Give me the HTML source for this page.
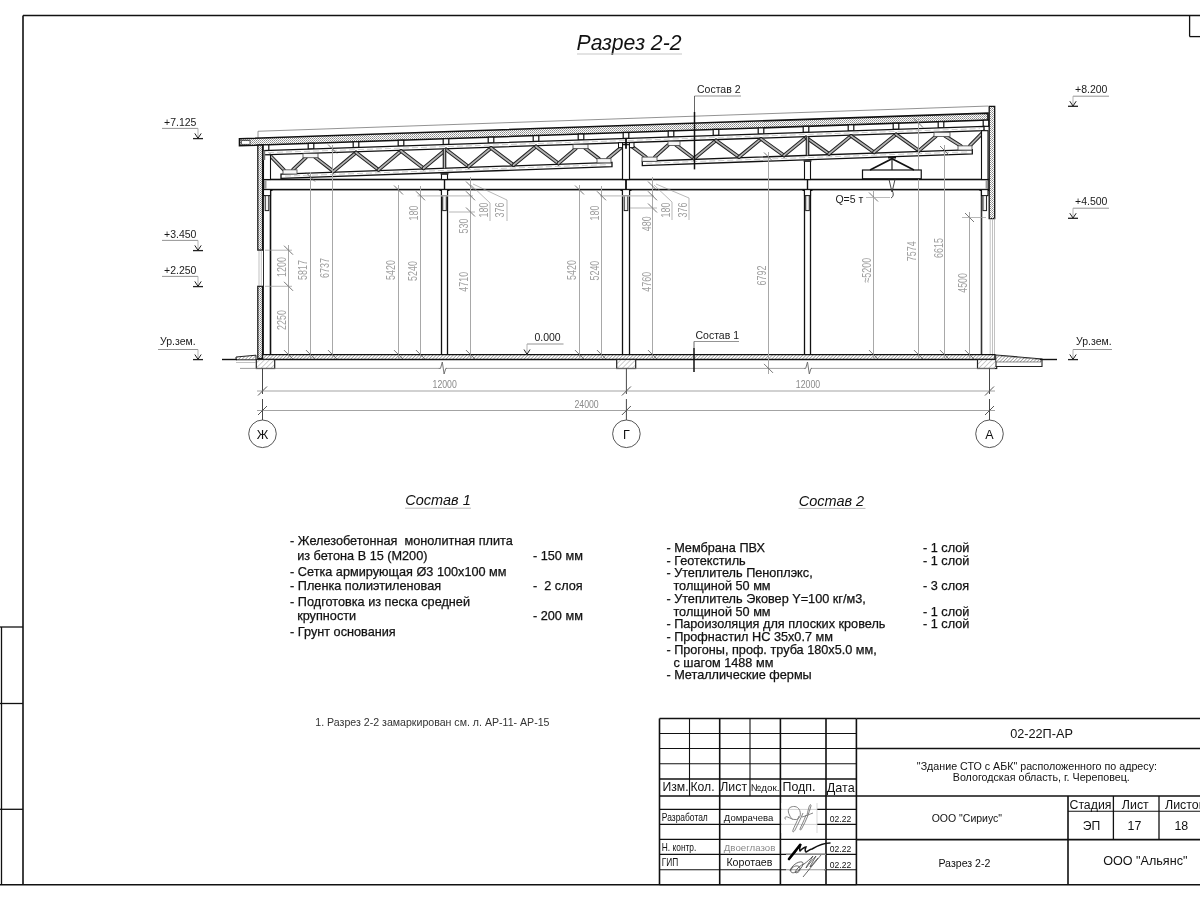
<!DOCTYPE html>
<html><head><meta charset="utf-8"><style>
html,body{margin:0;padding:0;background:#fff;}
svg{display:block;font-family:"Liberation Sans",sans-serif;will-change:transform;}
.dt{font-family:"Liberation Sans",sans-serif;}
.bt{stroke:#111;stroke-width:0.25px;}
</style></head><body>
<svg width="1200" height="900" viewBox="0 0 1200 900">
<defs>
<pattern id="dots" width="2" height="2" patternUnits="userSpaceOnUse"><rect width="2" height="2" fill="#fff"/><rect width="1" height="1" fill="#8a8a8a"/><rect x="1" y="1" width="1" height="1" fill="#aaa"/></pattern>
<pattern id="hatch" width="2.4" height="2.4" patternUnits="userSpaceOnUse" patternTransform="rotate(45)"><rect width="2.4" height="2.4" fill="#fff"/><line x1="0" y1="0" x2="0" y2="2.4" stroke="#666" stroke-width="1"/></pattern>
<pattern id="hatch2" width="3.5" height="3.5" patternUnits="userSpaceOnUse" patternTransform="rotate(45)"><rect width="3.5" height="3.5" fill="#fff"/><line x1="0" y1="0" x2="0" y2="3.5" stroke="#888" stroke-width="0.8"/></pattern>
</defs>
<rect width="1200" height="900" fill="#fff"/>
<line x1="23.00" y1="15.50" x2="1200.00" y2="15.50" stroke="#111" stroke-width="1.6" />
<line x1="23.00" y1="15.50" x2="23.00" y2="884.80" stroke="#111" stroke-width="1.6" />
<line x1="0.00" y1="884.80" x2="1200.00" y2="884.80" stroke="#111" stroke-width="1.6" />
<line x1="1189.60" y1="15.50" x2="1189.60" y2="36.60" stroke="#111" stroke-width="1.3" />
<line x1="1189.60" y1="36.60" x2="1200.00" y2="36.60" stroke="#111" stroke-width="1.3" />
<line x1="1.50" y1="627.00" x2="1.50" y2="884.80" stroke="#111" stroke-width="1.3" />
<line x1="0.00" y1="627.00" x2="23.00" y2="627.00" stroke="#111" stroke-width="1.3" />
<line x1="0.00" y1="703.50" x2="23.00" y2="703.50" stroke="#111" stroke-width="1.3" />
<line x1="0.00" y1="809.30" x2="23.00" y2="809.30" stroke="#111" stroke-width="1.3" />
<text x="576.50" y="49.70" font-size="21.2" text-anchor="start" fill="#111" font-style="italic">Разрез 2-2</text>
<line x1="577.00" y1="54.00" x2="682.00" y2="54.00" stroke="#c8c8c8" stroke-width="1.2" />
<text x="164.00" y="125.80" font-size="10.5" text-anchor="start" fill="#1a1a1a" >+7.125</text>
<line x1="162.00" y1="128.40" x2="198.00" y2="128.40" stroke="#888" stroke-width="0.9" />
<line x1="198.00" y1="128.40" x2="198.00" y2="138.50" stroke="#aaa" stroke-width="0.9" />
<polyline points="194.80,133.40 198.00,138.30 201.20,133.40" stroke="#222" stroke-width="1" fill="none" />
<line x1="193.00" y1="138.60" x2="203.00" y2="138.60" stroke="#222" stroke-width="1.3" />
<text x="164.00" y="237.80" font-size="10.5" text-anchor="start" fill="#1a1a1a" >+3.450</text>
<line x1="162.00" y1="240.40" x2="198.00" y2="240.40" stroke="#888" stroke-width="0.9" />
<line x1="198.00" y1="240.40" x2="198.00" y2="250.50" stroke="#aaa" stroke-width="0.9" />
<polyline points="194.80,245.40 198.00,250.30 201.20,245.40" stroke="#222" stroke-width="1" fill="none" />
<line x1="193.00" y1="250.60" x2="203.00" y2="250.60" stroke="#222" stroke-width="1.3" />
<text x="164.00" y="273.80" font-size="10.5" text-anchor="start" fill="#1a1a1a" >+2.250</text>
<line x1="162.00" y1="276.40" x2="198.00" y2="276.40" stroke="#888" stroke-width="0.9" />
<line x1="198.00" y1="276.40" x2="198.00" y2="286.50" stroke="#aaa" stroke-width="0.9" />
<polyline points="194.80,281.40 198.00,286.30 201.20,281.40" stroke="#222" stroke-width="1" fill="none" />
<line x1="193.00" y1="286.60" x2="203.00" y2="286.60" stroke="#222" stroke-width="1.3" />
<text x="160.00" y="345.00" font-size="10.5" text-anchor="start" fill="#1a1a1a" >Ур.зем.</text>
<line x1="158.00" y1="349.50" x2="198.00" y2="349.50" stroke="#888" stroke-width="0.9" />
<line x1="198.00" y1="349.50" x2="198.00" y2="359.50" stroke="#aaa" stroke-width="0.9" />
<polyline points="194.80,354.50 198.00,359.30 201.20,354.50" stroke="#222" stroke-width="1" fill="none" />
<line x1="193.00" y1="359.60" x2="203.00" y2="359.60" stroke="#222" stroke-width="1.3" />
<text x="1075.00" y="93.00" font-size="10.5" text-anchor="start" fill="#1a1a1a" >+8.200</text>
<line x1="1073.00" y1="96.20" x2="1109.00" y2="96.20" stroke="#888" stroke-width="0.9" />
<line x1="1073.00" y1="96.20" x2="1073.00" y2="106.20" stroke="#aaa" stroke-width="0.9" />
<polyline points="1069.80,101.20 1073.00,106.00 1076.20,101.20" stroke="#222" stroke-width="1" fill="none" />
<line x1="1068.00" y1="106.30" x2="1078.00" y2="106.30" stroke="#222" stroke-width="1.3" />
<text x="1075.00" y="205.00" font-size="10.5" text-anchor="start" fill="#1a1a1a" >+4.500</text>
<line x1="1073.00" y1="208.20" x2="1109.00" y2="208.20" stroke="#888" stroke-width="0.9" />
<line x1="1073.00" y1="208.20" x2="1073.00" y2="218.20" stroke="#aaa" stroke-width="0.9" />
<polyline points="1069.80,213.20 1073.00,218.00 1076.20,213.20" stroke="#222" stroke-width="1" fill="none" />
<line x1="1068.00" y1="218.30" x2="1078.00" y2="218.30" stroke="#222" stroke-width="1.3" />
<text x="1076.00" y="345.00" font-size="10.5" text-anchor="start" fill="#1a1a1a" >Ур.зем.</text>
<line x1="1073.00" y1="349.50" x2="1112.00" y2="349.50" stroke="#888" stroke-width="0.9" />
<line x1="1073.00" y1="349.50" x2="1073.00" y2="359.50" stroke="#aaa" stroke-width="0.9" />
<polyline points="1069.80,354.50 1073.00,359.30 1076.20,354.50" stroke="#222" stroke-width="1" fill="none" />
<line x1="1068.00" y1="359.60" x2="1078.00" y2="359.60" stroke="#222" stroke-width="1.3" />
<line x1="258.00" y1="131.25" x2="988.00" y2="106.06" stroke="#777" stroke-width="0.8" />
<line x1="258.00" y1="131.25" x2="258.00" y2="138.00" stroke="#777" stroke-width="0.8" />
<polygon points="239.50,138.77 988.00,113.09 988.00,120.09 239.50,145.77" stroke="#111" stroke-width="1.6" fill="url(#dots)" />
<rect x="241.30" y="140.68" width="8.70" height="3.60" stroke="#222" stroke-width="0.7" fill="#fff" />
<rect x="263.20" y="144.86" width="5.60" height="5.71" stroke="#111" stroke-width="1.2" fill="#fff" />
<rect x="308.20" y="143.31" width="5.60" height="5.74" stroke="#111" stroke-width="1.2" fill="#fff" />
<rect x="353.20" y="141.77" width="5.60" height="5.77" stroke="#111" stroke-width="1.2" fill="#fff" />
<rect x="398.20" y="140.23" width="5.60" height="5.79" stroke="#111" stroke-width="1.2" fill="#fff" />
<rect x="443.20" y="138.68" width="5.60" height="5.82" stroke="#111" stroke-width="1.2" fill="#fff" />
<rect x="488.20" y="137.14" width="5.60" height="5.85" stroke="#111" stroke-width="1.2" fill="#fff" />
<rect x="533.20" y="135.60" width="5.60" height="5.88" stroke="#111" stroke-width="1.2" fill="#fff" />
<rect x="578.20" y="134.05" width="5.60" height="5.91" stroke="#111" stroke-width="1.2" fill="#fff" />
<rect x="623.20" y="132.51" width="5.60" height="5.94" stroke="#111" stroke-width="1.2" fill="#fff" />
<rect x="668.20" y="130.97" width="5.60" height="5.97" stroke="#111" stroke-width="1.2" fill="#fff" />
<rect x="713.20" y="129.42" width="5.60" height="6.00" stroke="#111" stroke-width="1.2" fill="#fff" />
<rect x="758.20" y="127.88" width="5.60" height="6.02" stroke="#111" stroke-width="1.2" fill="#fff" />
<rect x="803.20" y="126.34" width="5.60" height="6.05" stroke="#111" stroke-width="1.2" fill="#fff" />
<rect x="848.20" y="124.79" width="5.60" height="6.08" stroke="#111" stroke-width="1.2" fill="#fff" />
<rect x="893.20" y="123.25" width="5.60" height="6.11" stroke="#111" stroke-width="1.2" fill="#fff" />
<rect x="938.20" y="121.71" width="5.60" height="6.14" stroke="#111" stroke-width="1.2" fill="#fff" />
<rect x="983.20" y="120.16" width="5.60" height="6.17" stroke="#111" stroke-width="1.2" fill="#fff" />
<polygon points="263.00,150.67 984.00,126.40 984.00,130.60 263.00,154.87" stroke="#111" stroke-width="1.3" fill="#fff" />
<line x1="268.00" y1="152.60" x2="980.00" y2="128.63" stroke="#aaa" stroke-width="0.6" stroke-dasharray="6,3"/>
<polygon points="281.00,174.10 612.00,162.35 612.00,166.65 281.00,178.40" stroke="#111" stroke-width="1.3" fill="#fff" />
<line x1="285.00" y1="176.11" x2="608.00" y2="164.64" stroke="#aaa" stroke-width="0.6" stroke-dasharray="6,3"/>
<polygon points="642.30,161.27 972.30,149.56 972.30,153.86 642.30,165.57" stroke="#111" stroke-width="1.3" fill="#fff" />
<line x1="646.30" y1="163.28" x2="968.30" y2="151.85" stroke="#aaa" stroke-width="0.6" stroke-dasharray="6,3"/>
<line x1="270.00" y1="155.43" x2="284.00" y2="169.99" stroke="#222" stroke-width="3.7" stroke-linecap="round"/>
<line x1="270.00" y1="155.43" x2="284.00" y2="169.99" stroke="#b4b4b4" stroke-width="1.7" stroke-linecap="round"/>
<line x1="306.00" y1="157.42" x2="293.00" y2="169.67" stroke="#222" stroke-width="3.7" stroke-linecap="round"/>
<line x1="306.00" y1="157.42" x2="293.00" y2="169.67" stroke="#b4b4b4" stroke-width="1.7" stroke-linecap="round"/>
<line x1="315.00" y1="157.12" x2="333.50" y2="171.44" stroke="#222" stroke-width="3.7" stroke-linecap="round"/>
<line x1="315.00" y1="157.12" x2="333.50" y2="171.44" stroke="#b4b4b4" stroke-width="1.7" stroke-linecap="round"/>
<line x1="356.00" y1="152.54" x2="333.50" y2="171.44" stroke="#222" stroke-width="3.7" stroke-linecap="round"/>
<line x1="356.00" y1="152.54" x2="333.50" y2="171.44" stroke="#b4b4b4" stroke-width="1.7" stroke-linecap="round"/>
<line x1="356.00" y1="152.54" x2="378.50" y2="169.84" stroke="#222" stroke-width="3.7" stroke-linecap="round"/>
<line x1="356.00" y1="152.54" x2="378.50" y2="169.84" stroke="#b4b4b4" stroke-width="1.7" stroke-linecap="round"/>
<line x1="401.00" y1="151.02" x2="378.50" y2="169.84" stroke="#222" stroke-width="3.7" stroke-linecap="round"/>
<line x1="401.00" y1="151.02" x2="378.50" y2="169.84" stroke="#b4b4b4" stroke-width="1.7" stroke-linecap="round"/>
<line x1="401.00" y1="151.02" x2="423.50" y2="168.24" stroke="#222" stroke-width="3.7" stroke-linecap="round"/>
<line x1="401.00" y1="151.02" x2="423.50" y2="168.24" stroke="#b4b4b4" stroke-width="1.7" stroke-linecap="round"/>
<line x1="446.00" y1="149.51" x2="423.50" y2="168.24" stroke="#222" stroke-width="3.7" stroke-linecap="round"/>
<line x1="446.00" y1="149.51" x2="423.50" y2="168.24" stroke="#b4b4b4" stroke-width="1.7" stroke-linecap="round"/>
<line x1="446.00" y1="149.51" x2="468.50" y2="166.64" stroke="#222" stroke-width="3.7" stroke-linecap="round"/>
<line x1="446.00" y1="149.51" x2="468.50" y2="166.64" stroke="#b4b4b4" stroke-width="1.7" stroke-linecap="round"/>
<line x1="491.00" y1="147.99" x2="468.50" y2="166.64" stroke="#222" stroke-width="3.7" stroke-linecap="round"/>
<line x1="491.00" y1="147.99" x2="468.50" y2="166.64" stroke="#b4b4b4" stroke-width="1.7" stroke-linecap="round"/>
<line x1="491.00" y1="147.99" x2="513.50" y2="165.05" stroke="#222" stroke-width="3.7" stroke-linecap="round"/>
<line x1="491.00" y1="147.99" x2="513.50" y2="165.05" stroke="#b4b4b4" stroke-width="1.7" stroke-linecap="round"/>
<line x1="536.00" y1="146.48" x2="513.50" y2="165.05" stroke="#222" stroke-width="3.7" stroke-linecap="round"/>
<line x1="536.00" y1="146.48" x2="513.50" y2="165.05" stroke="#b4b4b4" stroke-width="1.7" stroke-linecap="round"/>
<line x1="536.00" y1="146.48" x2="558.50" y2="163.45" stroke="#222" stroke-width="3.7" stroke-linecap="round"/>
<line x1="536.00" y1="146.48" x2="558.50" y2="163.45" stroke="#b4b4b4" stroke-width="1.7" stroke-linecap="round"/>
<line x1="576.00" y1="148.33" x2="558.50" y2="163.45" stroke="#222" stroke-width="3.7" stroke-linecap="round"/>
<line x1="576.00" y1="148.33" x2="558.50" y2="163.45" stroke="#b4b4b4" stroke-width="1.7" stroke-linecap="round"/>
<line x1="585.00" y1="148.03" x2="599.00" y2="158.81" stroke="#222" stroke-width="3.7" stroke-linecap="round"/>
<line x1="585.00" y1="148.03" x2="599.00" y2="158.81" stroke="#b4b4b4" stroke-width="1.7" stroke-linecap="round"/>
<line x1="622.00" y1="146.78" x2="608.00" y2="158.49" stroke="#222" stroke-width="3.7" stroke-linecap="round"/>
<line x1="622.00" y1="146.78" x2="608.00" y2="158.49" stroke="#b4b4b4" stroke-width="1.7" stroke-linecap="round"/>
<line x1="632.00" y1="146.45" x2="646.00" y2="157.14" stroke="#222" stroke-width="3.7" stroke-linecap="round"/>
<line x1="632.00" y1="146.45" x2="646.00" y2="157.14" stroke="#b4b4b4" stroke-width="1.7" stroke-linecap="round"/>
<line x1="668.00" y1="145.24" x2="655.00" y2="156.82" stroke="#222" stroke-width="3.7" stroke-linecap="round"/>
<line x1="668.00" y1="145.24" x2="655.00" y2="156.82" stroke="#b4b4b4" stroke-width="1.7" stroke-linecap="round"/>
<line x1="676.00" y1="144.97" x2="694.00" y2="158.64" stroke="#222" stroke-width="3.7" stroke-linecap="round"/>
<line x1="676.00" y1="144.97" x2="694.00" y2="158.64" stroke="#b4b4b4" stroke-width="1.7" stroke-linecap="round"/>
<line x1="716.00" y1="140.42" x2="694.00" y2="158.64" stroke="#222" stroke-width="3.7" stroke-linecap="round"/>
<line x1="716.00" y1="140.42" x2="694.00" y2="158.64" stroke="#b4b4b4" stroke-width="1.7" stroke-linecap="round"/>
<line x1="716.00" y1="140.42" x2="739.00" y2="157.04" stroke="#222" stroke-width="3.7" stroke-linecap="round"/>
<line x1="716.00" y1="140.42" x2="739.00" y2="157.04" stroke="#b4b4b4" stroke-width="1.7" stroke-linecap="round"/>
<line x1="761.00" y1="138.90" x2="739.00" y2="157.04" stroke="#222" stroke-width="3.7" stroke-linecap="round"/>
<line x1="761.00" y1="138.90" x2="739.00" y2="157.04" stroke="#b4b4b4" stroke-width="1.7" stroke-linecap="round"/>
<line x1="761.00" y1="138.90" x2="784.00" y2="155.44" stroke="#222" stroke-width="3.7" stroke-linecap="round"/>
<line x1="761.00" y1="138.90" x2="784.00" y2="155.44" stroke="#b4b4b4" stroke-width="1.7" stroke-linecap="round"/>
<line x1="806.00" y1="137.39" x2="784.00" y2="155.44" stroke="#222" stroke-width="3.7" stroke-linecap="round"/>
<line x1="806.00" y1="137.39" x2="784.00" y2="155.44" stroke="#b4b4b4" stroke-width="1.7" stroke-linecap="round"/>
<line x1="806.00" y1="137.39" x2="829.00" y2="153.85" stroke="#222" stroke-width="3.7" stroke-linecap="round"/>
<line x1="806.00" y1="137.39" x2="829.00" y2="153.85" stroke="#b4b4b4" stroke-width="1.7" stroke-linecap="round"/>
<line x1="851.00" y1="135.88" x2="829.00" y2="153.85" stroke="#222" stroke-width="3.7" stroke-linecap="round"/>
<line x1="851.00" y1="135.88" x2="829.00" y2="153.85" stroke="#b4b4b4" stroke-width="1.7" stroke-linecap="round"/>
<line x1="851.00" y1="135.88" x2="874.00" y2="152.25" stroke="#222" stroke-width="3.7" stroke-linecap="round"/>
<line x1="851.00" y1="135.88" x2="874.00" y2="152.25" stroke="#b4b4b4" stroke-width="1.7" stroke-linecap="round"/>
<line x1="896.00" y1="134.36" x2="874.00" y2="152.25" stroke="#222" stroke-width="3.7" stroke-linecap="round"/>
<line x1="896.00" y1="134.36" x2="874.00" y2="152.25" stroke="#b4b4b4" stroke-width="1.7" stroke-linecap="round"/>
<line x1="896.00" y1="134.36" x2="919.00" y2="150.65" stroke="#222" stroke-width="3.7" stroke-linecap="round"/>
<line x1="896.00" y1="134.36" x2="919.00" y2="150.65" stroke="#b4b4b4" stroke-width="1.7" stroke-linecap="round"/>
<line x1="936.00" y1="136.21" x2="919.00" y2="150.65" stroke="#222" stroke-width="3.7" stroke-linecap="round"/>
<line x1="936.00" y1="136.21" x2="919.00" y2="150.65" stroke="#b4b4b4" stroke-width="1.7" stroke-linecap="round"/>
<line x1="945.00" y1="135.91" x2="961.00" y2="145.96" stroke="#222" stroke-width="3.7" stroke-linecap="round"/>
<line x1="945.00" y1="135.91" x2="961.00" y2="145.96" stroke="#b4b4b4" stroke-width="1.7" stroke-linecap="round"/>
<line x1="984.00" y1="131.40" x2="970.00" y2="145.64" stroke="#222" stroke-width="3.7" stroke-linecap="round"/>
<line x1="984.00" y1="131.40" x2="970.00" y2="145.64" stroke="#b4b4b4" stroke-width="1.7" stroke-linecap="round"/>
<rect x="303.00" y="153.52" width="15.00" height="4.20" stroke="#444" stroke-width="0.8" fill="#f6f6f6" />
<rect x="573.00" y="144.43" width="15.00" height="4.20" stroke="#444" stroke-width="0.8" fill="#f6f6f6" />
<rect x="668.00" y="141.24" width="12.00" height="4.20" stroke="#444" stroke-width="0.8" fill="#f6f6f6" />
<rect x="934.00" y="132.28" width="16.00" height="4.20" stroke="#444" stroke-width="0.8" fill="#f6f6f6" />
<rect x="283.00" y="169.83" width="14.00" height="4.20" stroke="#444" stroke-width="0.8" fill="#f6f6f6" />
<rect x="597.00" y="158.68" width="14.00" height="4.20" stroke="#444" stroke-width="0.8" fill="#f6f6f6" />
<rect x="642.00" y="157.08" width="15.00" height="4.20" stroke="#444" stroke-width="0.8" fill="#f6f6f6" />
<rect x="958.00" y="145.87" width="14.00" height="4.20" stroke="#444" stroke-width="0.8" fill="#f6f6f6" />
<rect x="263.40" y="179.50" width="724.60" height="10.10" stroke="#111" stroke-width="1.6" fill="#fff" />
<line x1="263.50" y1="189.60" x2="263.50" y2="354.60" stroke="#111" stroke-width="0.9" />
<line x1="270.50" y1="189.60" x2="270.50" y2="354.60" stroke="#111" stroke-width="1.6" />
<rect x="263.50" y="154.85" width="7.00" height="24.65" stroke="#111" stroke-width="1.1" fill="#fff" />
<rect x="264" y="180.3" width="2.5" height="8.5" fill="#999"/>
<rect x="263.2" y="150.5" width="2" height="9.5" fill="#777"/>
<line x1="261.50" y1="190.20" x2="272.50" y2="190.20" stroke="#111" stroke-width="1.6" />
<rect x="263.50" y="189.60" width="7.00" height="6.00" stroke="#111" stroke-width="1.1" fill="#fff" />
<rect x="265.20" y="195.6" width="3.6" height="15" stroke="#222" stroke-width="1" fill="#f2f2f2"/>
<line x1="441.50" y1="189.60" x2="441.50" y2="354.60" stroke="#111" stroke-width="1.3" />
<line x1="447.50" y1="189.60" x2="447.50" y2="354.60" stroke="#111" stroke-width="1.3" />
<line x1="444.50" y1="148.76" x2="444.50" y2="168.30" stroke="#1a1a1a" stroke-width="3.6" />
<line x1="444.50" y1="148.76" x2="444.50" y2="168.30" stroke="#b8b8b8" stroke-width="1.4" />
<rect x="441.50" y="174.10" width="6.00" height="5.40" stroke="#111" stroke-width="1.1" fill="#fff" />
<line x1="440.50" y1="173.80" x2="448.50" y2="173.80" stroke="#333" stroke-width="1.5" />
<line x1="444.50" y1="179.50" x2="444.50" y2="189.60" stroke="#111" stroke-width="1.4" />
<line x1="439.50" y1="190.20" x2="449.50" y2="190.20" stroke="#111" stroke-width="1.6" />
<rect x="441.50" y="189.60" width="6.00" height="6.00" stroke="#111" stroke-width="1.1" fill="#fff" />
<rect x="442.70" y="195.6" width="3.6" height="15" stroke="#222" stroke-width="1" fill="#f2f2f2"/>
<line x1="622.50" y1="189.60" x2="622.50" y2="354.60" stroke="#111" stroke-width="1.3" />
<line x1="629.50" y1="189.60" x2="629.50" y2="354.60" stroke="#111" stroke-width="1.3" />
<rect x="622.50" y="144.65" width="7.00" height="34.85" stroke="#111" stroke-width="1.2" fill="#fff" />
<line x1="626.00" y1="138.45" x2="626.00" y2="148.65" stroke="#111" stroke-width="1.8" />
<rect x="618.50" y="142.65" width="4.00" height="5.00" stroke="#111" stroke-width="1" fill="#fff" />
<rect x="629.50" y="142.65" width="4.50" height="5.00" stroke="#111" stroke-width="1" fill="#fff" />
<line x1="626.00" y1="179.50" x2="626.00" y2="189.60" stroke="#111" stroke-width="1.8" />
<line x1="620.50" y1="190.20" x2="631.50" y2="190.20" stroke="#111" stroke-width="1.6" />
<rect x="622.50" y="189.60" width="7.00" height="6.00" stroke="#111" stroke-width="1.1" fill="#fff" />
<rect x="624.20" y="195.6" width="3.6" height="15" stroke="#222" stroke-width="1" fill="#f2f2f2"/>
<line x1="804.50" y1="189.60" x2="804.50" y2="354.60" stroke="#111" stroke-width="1.3" />
<line x1="810.50" y1="189.60" x2="810.50" y2="354.60" stroke="#111" stroke-width="1.3" />
<line x1="807.50" y1="136.54" x2="807.50" y2="155.41" stroke="#1a1a1a" stroke-width="3.6" />
<line x1="807.50" y1="136.54" x2="807.50" y2="155.41" stroke="#b8b8b8" stroke-width="1.4" />
<rect x="804.50" y="161.21" width="6.00" height="18.29" stroke="#111" stroke-width="1.1" fill="#fff" />
<line x1="803.50" y1="160.91" x2="811.50" y2="160.91" stroke="#333" stroke-width="1.5" />
<line x1="807.50" y1="179.50" x2="807.50" y2="189.60" stroke="#111" stroke-width="1.4" />
<line x1="802.50" y1="190.20" x2="812.50" y2="190.20" stroke="#111" stroke-width="1.6" />
<rect x="804.50" y="189.60" width="6.00" height="6.00" stroke="#111" stroke-width="1.1" fill="#fff" />
<rect x="805.70" y="195.6" width="3.6" height="15" stroke="#222" stroke-width="1" fill="#f2f2f2"/>
<line x1="981.50" y1="189.60" x2="981.50" y2="354.60" stroke="#333" stroke-width="1.6" />
<rect x="981.50" y="130.68" width="6.50" height="48.82" stroke="#111" stroke-width="1.1" fill="#fff" />
<rect x="985.6" y="180.3" width="2.7" height="8.5" fill="#999"/>
<line x1="979.50" y1="190.20" x2="990.00" y2="190.20" stroke="#111" stroke-width="1.6" />
<rect x="981.50" y="189.60" width="6.50" height="6.00" stroke="#111" stroke-width="1.1" fill="#fff" />
<rect x="982.95" y="195.6" width="3.6" height="15" stroke="#222" stroke-width="1" fill="#f2f2f2"/>
<line x1="417.50" y1="195.80" x2="473.00" y2="195.80" stroke="#c4c4c4" stroke-width="1.2" />
<line x1="600.00" y1="195.80" x2="654.00" y2="195.80" stroke="#c4c4c4" stroke-width="1.2" />
<polygon points="257.80,145.14 262.50,144.98 262.50,250.20 257.80,250.20" stroke="#111" stroke-width="1.2" fill="url(#dots)" />
<rect x="257.80" y="286.30" width="4.70" height="72.20" stroke="#111" stroke-width="1.2" fill="url(#dots)" />
<line x1="259.00" y1="250.20" x2="259.00" y2="286.30" stroke="#999" stroke-width="0.6" />
<line x1="261.30" y1="250.20" x2="261.30" y2="286.30" stroke="#999" stroke-width="0.6" />
<rect x="989.20" y="106.40" width="5.50" height="112.20" stroke="#111" stroke-width="1.3" fill="url(#dots)" />
<line x1="990.20" y1="218.00" x2="990.20" y2="354.60" stroke="#999" stroke-width="0.6" />
<line x1="992.50" y1="218.00" x2="992.50" y2="354.60" stroke="#999" stroke-width="0.6" />
<line x1="994.50" y1="218.00" x2="994.50" y2="354.60" stroke="#999" stroke-width="0.6" />
<polygon points="262.50,354.60 995.00,354.60 995.00,359.50 262.50,359.50" stroke="#111" stroke-width="1.4" fill="url(#hatch)" />
<rect x="256.30" y="359.50" width="18.40" height="9.00" stroke="#222" stroke-width="1.2" fill="url(#hatch2)" />
<rect x="616.70" y="359.50" width="19.00" height="9.00" stroke="#222" stroke-width="1.2" fill="url(#hatch2)" />
<rect x="977.50" y="359.50" width="19.20" height="9.00" stroke="#222" stroke-width="1.2" fill="url(#hatch2)" />
<line x1="240.00" y1="368.40" x2="995.00" y2="368.40" stroke="#888" stroke-width="0.8" />
<polygon points="236.00,357.00 256.00,355.20 256.00,359.80 236.00,359.80" stroke="#222" stroke-width="1" fill="url(#hatch)" />
<line x1="236.00" y1="362.50" x2="256.00" y2="362.50" stroke="#999" stroke-width="0.6" />
<polygon points="996.00,355.00 1042.00,359.00 1042.00,366.50 996.00,366.50" stroke="#222" stroke-width="1.1" fill="#fff" />
<polygon points="996.00,355.50 1041.00,359.50 1041.00,362.00 996.00,362.00" stroke="#444" stroke-width="0.6" fill="url(#hatch)" />
<line x1="222.00" y1="359.50" x2="237.00" y2="359.50" stroke="#111" stroke-width="1.4" />
<line x1="1040.00" y1="359.50" x2="1057.00" y2="359.50" stroke="#111" stroke-width="1.4" />
<line x1="262.50" y1="368.50" x2="262.50" y2="394.00" stroke="#333" stroke-width="0.9" />
<line x1="262.50" y1="399.00" x2="262.50" y2="420.00" stroke="#333" stroke-width="0.9" />
<circle cx="262.5" cy="433.8" r="13.8" stroke="#444" stroke-width="0.9" fill="none"/>
<text x="262.50" y="439.00" font-size="12.5" text-anchor="middle" fill="#111" >Ж</text>
<line x1="626.40" y1="368.50" x2="626.40" y2="394.00" stroke="#333" stroke-width="0.9" />
<line x1="626.40" y1="399.00" x2="626.40" y2="420.00" stroke="#333" stroke-width="0.9" />
<circle cx="626.4" cy="433.8" r="13.8" stroke="#444" stroke-width="0.9" fill="none"/>
<text x="626.40" y="439.00" font-size="12.5" text-anchor="middle" fill="#111" >Г</text>
<line x1="989.50" y1="368.50" x2="989.50" y2="394.00" stroke="#333" stroke-width="0.9" />
<line x1="989.50" y1="399.00" x2="989.50" y2="420.00" stroke="#333" stroke-width="0.9" />
<circle cx="989.5" cy="433.8" r="13.8" stroke="#444" stroke-width="0.9" fill="none"/>
<text x="989.50" y="439.00" font-size="12.5" text-anchor="middle" fill="#111" >А</text>
<line x1="257.00" y1="391.00" x2="995.00" y2="391.00" stroke="#999" stroke-width="0.9" />
<line x1="257.00" y1="410.50" x2="995.00" y2="410.50" stroke="#999" stroke-width="0.9" />
<line x1="258.00" y1="395.50" x2="267.00" y2="386.50" stroke="#444" stroke-width="0.9" />
<line x1="258.00" y1="415.00" x2="267.00" y2="406.00" stroke="#444" stroke-width="0.9" />
<line x1="621.90" y1="395.50" x2="630.90" y2="386.50" stroke="#444" stroke-width="0.9" />
<line x1="621.90" y1="415.00" x2="630.90" y2="406.00" stroke="#444" stroke-width="0.9" />
<line x1="985.00" y1="395.50" x2="994.00" y2="386.50" stroke="#444" stroke-width="0.9" />
<line x1="985.00" y1="415.00" x2="994.00" y2="406.00" stroke="#444" stroke-width="0.9" />
<text transform="translate(444.70,387.70) scale(0.78,1)" x="0" y="0" font-size="11.2" text-anchor="middle" fill="#8a8a8a" class="dt">12000</text>
<text transform="translate(808.00,387.70) scale(0.78,1)" x="0" y="0" font-size="11.2" text-anchor="middle" fill="#8a8a8a" class="dt">12000</text>
<text transform="translate(586.60,407.70) scale(0.78,1)" x="0" y="0" font-size="11.2" text-anchor="middle" fill="#8a8a8a" class="dt">24000</text>
<rect x="438.30" y="366" width="8" height="5" fill="#fff"/>
<polyline points="438.30,368.40 440.50,368.40 442.30,362.00 444.10,374.00 445.80,368.40 446.80,368.40" stroke="#666" stroke-width="0.9" fill="none" />
<rect x="803.50" y="366" width="8" height="5" fill="#fff"/>
<polyline points="803.50,368.40 805.70,368.40 807.50,362.00 809.30,374.00 811.00,368.40 812.00,368.40" stroke="#666" stroke-width="0.9" fill="none" />
<line x1="288.50" y1="245.00" x2="288.50" y2="358.00" stroke="#a8a8a8" stroke-width="1" />
<line x1="284.00" y1="245.70" x2="293.00" y2="254.70" stroke="#555" stroke-width="0.8" />
<line x1="284.00" y1="281.80" x2="293.00" y2="290.80" stroke="#555" stroke-width="0.8" />
<line x1="284.00" y1="350.10" x2="293.00" y2="359.10" stroke="#555" stroke-width="0.8" />
<line x1="265.00" y1="250.20" x2="292.00" y2="250.20" stroke="#9a9a9a" stroke-width="0.7" />
<line x1="265.00" y1="286.30" x2="292.00" y2="286.30" stroke="#9a9a9a" stroke-width="0.7" />
<text transform="translate(282.00,267.00) rotate(-90) scale(0.72,1)" x="0" y="4.4" font-size="12.4" text-anchor="middle" fill="#a0a0a0" class="dt">1200</text>
<text transform="translate(282.00,320.00) rotate(-90) scale(0.72,1)" x="0" y="4.4" font-size="12.4" text-anchor="middle" fill="#a0a0a0" class="dt">2250</text>
<line x1="310.50" y1="172.00" x2="310.50" y2="358.00" stroke="#a8a8a8" stroke-width="1" />
<line x1="306.00" y1="172.50" x2="315.00" y2="181.50" stroke="#555" stroke-width="0.8" />
<line x1="306.00" y1="350.10" x2="315.00" y2="359.10" stroke="#555" stroke-width="0.8" />
<text transform="translate(303.00,270.00) rotate(-90) scale(0.72,1)" x="0" y="4.4" font-size="12.4" text-anchor="middle" fill="#a0a0a0" class="dt">5817</text>
<line x1="332.50" y1="145.00" x2="332.50" y2="358.00" stroke="#a8a8a8" stroke-width="1" />
<line x1="328.00" y1="144.50" x2="337.00" y2="153.50" stroke="#555" stroke-width="0.8" />
<line x1="328.00" y1="350.10" x2="337.00" y2="359.10" stroke="#555" stroke-width="0.8" />
<text transform="translate(325.00,268.00) rotate(-90) scale(0.72,1)" x="0" y="4.4" font-size="12.4" text-anchor="middle" fill="#a0a0a0" class="dt">6737</text>
<line x1="398.50" y1="185.00" x2="398.50" y2="358.00" stroke="#a8a8a8" stroke-width="1" />
<line x1="394.00" y1="185.50" x2="403.00" y2="194.50" stroke="#555" stroke-width="0.8" />
<line x1="394.00" y1="350.10" x2="403.00" y2="359.10" stroke="#555" stroke-width="0.8" />
<text transform="translate(391.00,270.00) rotate(-90) scale(0.72,1)" x="0" y="4.4" font-size="12.4" text-anchor="middle" fill="#a0a0a0" class="dt">5420</text>
<line x1="420.50" y1="186.00" x2="420.50" y2="358.00" stroke="#a8a8a8" stroke-width="1" />
<line x1="416.00" y1="191.30" x2="425.00" y2="200.30" stroke="#555" stroke-width="0.8" />
<line x1="416.00" y1="350.10" x2="425.00" y2="359.10" stroke="#555" stroke-width="0.8" />
<text transform="translate(413.00,271.00) rotate(-90) scale(0.72,1)" x="0" y="4.4" font-size="12.4" text-anchor="middle" fill="#a0a0a0" class="dt">5240</text>
<text transform="translate(414.00,213.00) rotate(-90) scale(0.72,1)" x="0" y="4.4" font-size="12.4" text-anchor="middle" fill="#a0a0a0" class="dt">180</text>
<line x1="470.50" y1="177.00" x2="470.50" y2="358.00" stroke="#a8a8a8" stroke-width="1" />
<line x1="466.00" y1="181.50" x2="475.00" y2="190.50" stroke="#555" stroke-width="0.8" />
<line x1="466.00" y1="191.30" x2="475.00" y2="200.30" stroke="#555" stroke-width="0.8" />
<line x1="466.00" y1="207.50" x2="475.00" y2="216.50" stroke="#555" stroke-width="0.8" />
<line x1="466.00" y1="350.10" x2="475.00" y2="359.10" stroke="#555" stroke-width="0.8" />
<line x1="449.00" y1="212.00" x2="475.00" y2="212.00" stroke="#9a9a9a" stroke-width="0.7" />
<text transform="translate(463.80,226.00) rotate(-90) scale(0.72,1)" x="0" y="4.4" font-size="12.4" text-anchor="middle" fill="#a0a0a0" class="dt">530</text>
<text transform="translate(463.80,281.80) rotate(-90) scale(0.72,1)" x="0" y="4.4" font-size="12.4" text-anchor="middle" fill="#a0a0a0" class="dt">4710</text>
<polyline points="471.00,185.00 490.00,203.00 490.00,221.00" stroke="#9a9a9a" stroke-width="0.7" fill="none" />
<polyline points="473.00,184.00 507.00,200.00 507.00,221.00" stroke="#9a9a9a" stroke-width="0.7" fill="none" />
<text transform="translate(483.80,210.00) rotate(-90) scale(0.72,1)" x="0" y="4.4" font-size="12.4" text-anchor="middle" fill="#a0a0a0" class="dt">180</text>
<text transform="translate(499.60,210.00) rotate(-90) scale(0.72,1)" x="0" y="4.4" font-size="12.4" text-anchor="middle" fill="#a0a0a0" class="dt">376</text>
<line x1="579.50" y1="185.00" x2="579.50" y2="358.00" stroke="#a8a8a8" stroke-width="1" />
<line x1="575.00" y1="185.50" x2="584.00" y2="194.50" stroke="#555" stroke-width="0.8" />
<line x1="575.00" y1="350.10" x2="584.00" y2="359.10" stroke="#555" stroke-width="0.8" />
<text transform="translate(571.80,270.00) rotate(-90) scale(0.72,1)" x="0" y="4.4" font-size="12.4" text-anchor="middle" fill="#a0a0a0" class="dt">5420</text>
<line x1="601.50" y1="186.00" x2="601.50" y2="358.00" stroke="#a8a8a8" stroke-width="1" />
<line x1="597.00" y1="191.30" x2="606.00" y2="200.30" stroke="#555" stroke-width="0.8" />
<line x1="597.00" y1="350.10" x2="606.00" y2="359.10" stroke="#555" stroke-width="0.8" />
<text transform="translate(595.00,270.60) rotate(-90) scale(0.72,1)" x="0" y="4.4" font-size="12.4" text-anchor="middle" fill="#a0a0a0" class="dt">5240</text>
<text transform="translate(595.00,213.00) rotate(-90) scale(0.72,1)" x="0" y="4.4" font-size="12.4" text-anchor="middle" fill="#a0a0a0" class="dt">180</text>
<line x1="652.50" y1="177.00" x2="652.50" y2="358.00" stroke="#a8a8a8" stroke-width="1" />
<line x1="648.00" y1="181.50" x2="657.00" y2="190.50" stroke="#555" stroke-width="0.8" />
<line x1="648.00" y1="191.30" x2="657.00" y2="200.30" stroke="#555" stroke-width="0.8" />
<line x1="648.00" y1="203.50" x2="657.00" y2="212.50" stroke="#555" stroke-width="0.8" />
<line x1="648.00" y1="350.10" x2="657.00" y2="359.10" stroke="#555" stroke-width="0.8" />
<line x1="630.00" y1="208.00" x2="657.00" y2="208.00" stroke="#9a9a9a" stroke-width="0.7" />
<text transform="translate(646.40,223.80) rotate(-90) scale(0.72,1)" x="0" y="4.4" font-size="12.4" text-anchor="middle" fill="#a0a0a0" class="dt">480</text>
<text transform="translate(646.40,281.80) rotate(-90) scale(0.72,1)" x="0" y="4.4" font-size="12.4" text-anchor="middle" fill="#a0a0a0" class="dt">4760</text>
<polyline points="654.00,185.00 672.00,202.00 672.00,220.00" stroke="#9a9a9a" stroke-width="0.7" fill="none" />
<polyline points="656.00,184.00 689.00,198.00 689.00,220.00" stroke="#9a9a9a" stroke-width="0.7" fill="none" />
<text transform="translate(665.40,210.00) rotate(-90) scale(0.72,1)" x="0" y="4.4" font-size="12.4" text-anchor="middle" fill="#a0a0a0" class="dt">180</text>
<text transform="translate(682.20,210.00) rotate(-90) scale(0.72,1)" x="0" y="4.4" font-size="12.4" text-anchor="middle" fill="#a0a0a0" class="dt">376</text>
<line x1="768.50" y1="152.00" x2="768.50" y2="374.00" stroke="#a8a8a8" stroke-width="1" />
<line x1="764.00" y1="152.50" x2="773.00" y2="161.50" stroke="#555" stroke-width="0.8" />
<line x1="764.00" y1="363.90" x2="773.00" y2="372.90" stroke="#555" stroke-width="0.8" />
<text transform="translate(761.40,275.50) rotate(-90) scale(0.72,1)" x="0" y="4.4" font-size="12.4" text-anchor="middle" fill="#a0a0a0" class="dt">6792</text>
<line x1="873.50" y1="190.00" x2="873.50" y2="358.00" stroke="#a8a8a8" stroke-width="1" />
<line x1="869.00" y1="192.50" x2="878.00" y2="201.50" stroke="#555" stroke-width="0.8" />
<line x1="869.00" y1="350.10" x2="878.00" y2="359.10" stroke="#555" stroke-width="0.8" />
<text transform="translate(866.50,270.20) rotate(-90) scale(0.72,1)" x="0" y="4.4" font-size="12.4" text-anchor="middle" fill="#a0a0a0" class="dt">≈5200</text>
<line x1="918.50" y1="118.00" x2="918.50" y2="358.00" stroke="#a8a8a8" stroke-width="1" />
<line x1="914.00" y1="118.50" x2="923.00" y2="127.50" stroke="#555" stroke-width="0.8" />
<line x1="914.00" y1="350.10" x2="923.00" y2="359.10" stroke="#555" stroke-width="0.8" />
<text transform="translate(911.40,251.20) rotate(-90) scale(0.72,1)" x="0" y="4.4" font-size="12.4" text-anchor="middle" fill="#a0a0a0" class="dt">7574</text>
<line x1="944.50" y1="145.00" x2="944.50" y2="358.00" stroke="#a8a8a8" stroke-width="1" />
<line x1="940.00" y1="146.00" x2="949.00" y2="155.00" stroke="#555" stroke-width="0.8" />
<line x1="940.00" y1="350.10" x2="949.00" y2="359.10" stroke="#555" stroke-width="0.8" />
<text transform="translate(938.20,248.00) rotate(-90) scale(0.72,1)" x="0" y="4.4" font-size="12.4" text-anchor="middle" fill="#a0a0a0" class="dt">6615</text>
<line x1="969.50" y1="212.00" x2="969.50" y2="358.00" stroke="#a8a8a8" stroke-width="1" />
<line x1="965.00" y1="213.00" x2="974.00" y2="222.00" stroke="#555" stroke-width="0.8" />
<line x1="965.00" y1="350.10" x2="974.00" y2="359.10" stroke="#555" stroke-width="0.8" />
<line x1="962.00" y1="217.50" x2="986.00" y2="217.50" stroke="#9a9a9a" stroke-width="0.7" />
<text transform="translate(963.00,282.90) rotate(-90) scale(0.72,1)" x="0" y="4.4" font-size="12.4" text-anchor="middle" fill="#a0a0a0" class="dt">4500</text>
<text x="534.40" y="341.30" font-size="10.5" text-anchor="start" fill="#1a1a1a" >0.000</text>
<line x1="527.00" y1="344.00" x2="563.50" y2="344.00" stroke="#888" stroke-width="0.9" />
<line x1="527.00" y1="344.00" x2="527.00" y2="354.50" stroke="#aaa" stroke-width="0.9" />
<polyline points="524.00,349.50 527.00,354.30 530.00,349.50" stroke="#222" stroke-width="1" fill="none" />
<text x="697.00" y="93.00" font-size="10.5" text-anchor="start" fill="#1a1a1a" >Состав 2</text>
<line x1="694.50" y1="96.00" x2="741.00" y2="96.00" stroke="#888" stroke-width="0.9" />
<line x1="694.50" y1="96.00" x2="694.50" y2="112.00" stroke="#555" stroke-width="0.9" />
<line x1="694.50" y1="112.00" x2="694.50" y2="169.40" stroke="#111" stroke-width="1.5" />
<text x="695.50" y="338.80" font-size="10.5" text-anchor="start" fill="#1a1a1a" >Состав 1</text>
<line x1="694.00" y1="341.50" x2="739.00" y2="341.50" stroke="#888" stroke-width="0.9" />
<line x1="694.00" y1="341.50" x2="694.00" y2="348.00" stroke="#555" stroke-width="0.9" />
<line x1="694.00" y1="348.00" x2="694.00" y2="372.00" stroke="#111" stroke-width="1.5" />
<rect x="862.50" y="170.00" width="58.75" height="8.75" stroke="#111" stroke-width="1.2" fill="#fff" />
<polyline points="870.00,170.00 892.00,158.70 914.00,170.00" stroke="#111" stroke-width="1.6" fill="none" />
<line x1="892.00" y1="158.70" x2="892.00" y2="170.00" stroke="#222" stroke-width="1.2" />
<line x1="888.00" y1="157.60" x2="896.00" y2="157.60" stroke="#111" stroke-width="1.8" />
<polyline points="889.00,179.50 892.00,192.00 895.00,179.50" stroke="#333" stroke-width="0.9" fill="none" />
<path d="M892,190 Q895,196 891,198" stroke="#333" stroke-width="0.9" fill="none"/>
<text x="835.40" y="203.30" font-size="10.5" text-anchor="start" fill="#1a1a1a" >Q=5 т</text>
<line x1="866.00" y1="197.50" x2="890.00" y2="197.50" stroke="#aaa" stroke-width="0.8" />
<text x="405.30" y="505.30" font-size="14.5" text-anchor="start" fill="#111" font-style="italic">Состав 1</text>
<line x1="405.00" y1="508.20" x2="471.00" y2="508.20" stroke="#bbb" stroke-width="1" />
<text x="290.10" y="544.90" font-size="12.7" text-anchor="start" fill="#111" xml:space="preserve" class="bt">- Железобетонная  монолитная плита</text>
<text x="290.10" y="560.40" font-size="12.7" text-anchor="start" fill="#111" xml:space="preserve" class="bt">  из бетона В 15 (М200)</text>
<text x="533.00" y="560.40" font-size="12.7" text-anchor="start" fill="#111" xml:space="preserve" class="bt">- 150 мм</text>
<text x="290.10" y="575.60" font-size="12.7" text-anchor="start" fill="#111" xml:space="preserve" class="bt">- Сетка армирующая Ø3 100х100 мм</text>
<text x="290.10" y="590.30" font-size="12.7" text-anchor="start" fill="#111" xml:space="preserve" class="bt">- Пленка полиэтиленовая</text>
<text x="533.00" y="590.30" font-size="12.7" text-anchor="start" fill="#111" xml:space="preserve" class="bt">-  2 слоя</text>
<text x="290.10" y="605.70" font-size="12.7" text-anchor="start" fill="#111" xml:space="preserve" class="bt">- Подготовка из песка средней</text>
<text x="290.10" y="620.40" font-size="12.7" text-anchor="start" fill="#111" xml:space="preserve" class="bt">  крупности</text>
<text x="533.00" y="620.40" font-size="12.7" text-anchor="start" fill="#111" xml:space="preserve" class="bt">- 200 мм</text>
<text x="290.10" y="635.90" font-size="12.7" text-anchor="start" fill="#111" xml:space="preserve" class="bt">- Грунт основания</text>
<text x="798.70" y="505.50" font-size="14.5" text-anchor="start" fill="#111" font-style="italic">Состав 2</text>
<line x1="798.50" y1="508.40" x2="865.50" y2="508.40" stroke="#bbb" stroke-width="1" />
<text x="666.40" y="551.90" font-size="12.7" text-anchor="start" fill="#111" xml:space="preserve" class="bt">- Мембрана ПВХ</text>
<text x="923.00" y="551.90" font-size="12.7" text-anchor="start" fill="#111" xml:space="preserve" class="bt">- 1 слой</text>
<text x="666.40" y="564.60" font-size="12.7" text-anchor="start" fill="#111" xml:space="preserve" class="bt">- Геотекстиль</text>
<text x="923.00" y="564.60" font-size="12.7" text-anchor="start" fill="#111" xml:space="preserve" class="bt">- 1 слой</text>
<text x="666.40" y="577.40" font-size="12.7" text-anchor="start" fill="#111" xml:space="preserve" class="bt">- Утеплитель Пеноплэкс,</text>
<text x="666.40" y="590.10" font-size="12.7" text-anchor="start" fill="#111" xml:space="preserve" class="bt">  толщиной 50 мм</text>
<text x="923.00" y="590.10" font-size="12.7" text-anchor="start" fill="#111" xml:space="preserve" class="bt">- 3 слоя</text>
<text x="666.40" y="602.90" font-size="12.7" text-anchor="start" fill="#111" xml:space="preserve" class="bt">- Утеплитель Эковер Y=100 кг/м3,</text>
<text x="666.40" y="615.60" font-size="12.7" text-anchor="start" fill="#111" xml:space="preserve" class="bt">  толщиной 50 мм</text>
<text x="923.00" y="615.60" font-size="12.7" text-anchor="start" fill="#111" xml:space="preserve" class="bt">- 1 слой</text>
<text x="666.40" y="628.40" font-size="12.7" text-anchor="start" fill="#111" xml:space="preserve" class="bt">- Пароизоляция для плоских кровель</text>
<text x="923.00" y="628.40" font-size="12.7" text-anchor="start" fill="#111" xml:space="preserve" class="bt">- 1 слой</text>
<text x="666.40" y="641.10" font-size="12.7" text-anchor="start" fill="#111" xml:space="preserve" class="bt">- Профнастил НС 35х0.7 мм</text>
<text x="666.40" y="653.90" font-size="12.7" text-anchor="start" fill="#111" xml:space="preserve" class="bt">- Прогоны, проф. труба 180х5.0 мм,</text>
<text x="666.40" y="666.60" font-size="12.7" text-anchor="start" fill="#111" xml:space="preserve" class="bt">  с шагом 1488 мм</text>
<text x="666.40" y="679.40" font-size="12.7" text-anchor="start" fill="#111" xml:space="preserve" class="bt">- Металлические фермы</text>
<text x="315.30" y="725.70" font-size="10.6" text-anchor="start" fill="#333" >1. Разрез 2-2 замаркирован см. л. АР-11- АР-15</text>
<line x1="659.50" y1="718.50" x2="856.40" y2="718.50" stroke="#111" stroke-width="1.6" />
<line x1="659.50" y1="733.50" x2="856.40" y2="733.50" stroke="#111" stroke-width="1.1" />
<line x1="659.50" y1="748.50" x2="856.40" y2="748.50" stroke="#111" stroke-width="1.1" />
<line x1="659.50" y1="763.70" x2="856.40" y2="763.70" stroke="#111" stroke-width="1.1" />
<line x1="659.50" y1="779.00" x2="856.40" y2="779.00" stroke="#111" stroke-width="1.6" />
<line x1="659.50" y1="796.00" x2="856.40" y2="796.00" stroke="#111" stroke-width="1.6" />
<line x1="659.50" y1="809.40" x2="856.40" y2="809.40" stroke="#111" stroke-width="1.1" />
<line x1="659.50" y1="824.40" x2="856.40" y2="824.40" stroke="#111" stroke-width="1.1" />
<line x1="659.50" y1="839.40" x2="856.40" y2="839.40" stroke="#111" stroke-width="1.1" />
<line x1="659.50" y1="854.40" x2="856.40" y2="854.40" stroke="#111" stroke-width="1.1" />
<line x1="659.50" y1="869.80" x2="856.40" y2="869.80" stroke="#111" stroke-width="1.1" />
<line x1="659.50" y1="884.80" x2="856.40" y2="884.80" stroke="#111" stroke-width="1.1" />
<line x1="856.40" y1="718.50" x2="1200.00" y2="718.50" stroke="#111" stroke-width="1.6" />
<line x1="856.40" y1="748.50" x2="1200.00" y2="748.50" stroke="#111" stroke-width="1.3" />
<line x1="856.40" y1="796.00" x2="1200.00" y2="796.00" stroke="#111" stroke-width="1.6" />
<line x1="856.40" y1="839.60" x2="1200.00" y2="839.60" stroke="#111" stroke-width="1.6" />
<line x1="1068.00" y1="811.20" x2="1200.00" y2="811.20" stroke="#111" stroke-width="1.1" />
<line x1="659.50" y1="718.50" x2="659.50" y2="884.80" stroke="#111" stroke-width="1.6" />
<line x1="719.70" y1="718.50" x2="719.70" y2="884.80" stroke="#111" stroke-width="1.6" />
<line x1="780.40" y1="718.50" x2="780.40" y2="884.80" stroke="#111" stroke-width="1.6" />
<line x1="826.00" y1="718.50" x2="826.00" y2="884.80" stroke="#111" stroke-width="1.6" />
<line x1="856.40" y1="718.50" x2="856.40" y2="884.80" stroke="#111" stroke-width="1.6" />
<line x1="689.50" y1="718.50" x2="689.50" y2="796.00" stroke="#111" stroke-width="1.1" />
<line x1="750.00" y1="718.50" x2="750.00" y2="796.00" stroke="#111" stroke-width="1.1" />
<line x1="1068.00" y1="796.00" x2="1068.00" y2="884.80" stroke="#111" stroke-width="1.6" />
<line x1="1113.40" y1="796.00" x2="1113.40" y2="839.60" stroke="#111" stroke-width="1.3" />
<line x1="1159.00" y1="796.00" x2="1159.00" y2="839.60" stroke="#111" stroke-width="1.3" />
<text x="662.50" y="791.00" font-size="12.2" text-anchor="start" fill="#111" >Изм.</text>
<text x="690.50" y="791.00" font-size="12.2" text-anchor="start" fill="#111" >Кол.</text>
<text x="720.30" y="791.00" font-size="12.3" text-anchor="start" fill="#111" >Лист</text>
<text x="750.80" y="791.00" font-size="9.8" text-anchor="start" fill="#111" >№док.</text>
<text x="782.50" y="791.00" font-size="12.4" text-anchor="start" fill="#111" >Подп.</text>
<text x="826.80" y="791.50" font-size="12.6" text-anchor="start" fill="#111" >Дата</text>
<text x="661.80" y="821.00" font-size="11" text-anchor="start" fill="#111" textLength="46" lengthAdjust="spacingAndGlyphs">Разработал</text>
<text x="723.80" y="820.60" font-size="9.6" text-anchor="start" fill="#111" textLength="49.5" lengthAdjust="spacingAndGlyphs">Домрачева</text>
<text x="829.80" y="822.40" font-size="9.8" text-anchor="start" fill="#111" textLength="21.5" lengthAdjust="spacingAndGlyphs">02.22</text>
<text x="661.80" y="851.00" font-size="11" text-anchor="start" fill="#111" textLength="34.5" lengthAdjust="spacingAndGlyphs">Н. контр.</text>
<text x="723.80" y="851.00" font-size="9.7" text-anchor="start" fill="#888" textLength="51.5" lengthAdjust="spacingAndGlyphs">Двоеглазов</text>
<text x="829.80" y="852.40" font-size="9.8" text-anchor="start" fill="#111" textLength="21.5" lengthAdjust="spacingAndGlyphs">02.22</text>
<text x="661.80" y="866.40" font-size="11" text-anchor="start" fill="#111" textLength="16.5" lengthAdjust="spacingAndGlyphs">ГИП</text>
<text x="726.40" y="866.00" font-size="10.5" text-anchor="start" fill="#111" textLength="46" lengthAdjust="spacingAndGlyphs">Коротаев</text>
<text x="829.80" y="868.00" font-size="9.8" text-anchor="start" fill="#111" textLength="21.5" lengthAdjust="spacingAndGlyphs">02.22</text>
<text x="1041.50" y="738.30" font-size="12.7" text-anchor="middle" fill="#111" >02-22П-АР</text>
<text x="1036.90" y="769.80" font-size="10.7" text-anchor="middle" fill="#111" >"Здание СТО с АБК" расположенного по адресу:</text>
<text x="1041.30" y="780.80" font-size="10.7" text-anchor="middle" fill="#111" >Вологодская область, г. Череповец.</text>
<text x="966.90" y="822.20" font-size="10.5" text-anchor="middle" fill="#111" >ООО "Сириус"</text>
<text x="964.40" y="867.40" font-size="10.6" text-anchor="middle" fill="#111" >Разрез 2-2</text>
<text x="1069.50" y="808.75" font-size="12.3" text-anchor="start" fill="#111" >Стадия</text>
<text x="1135.30" y="808.75" font-size="12.4" text-anchor="middle" fill="#111" >Лист</text>
<text x="1165.00" y="808.75" font-size="12.4" text-anchor="start" fill="#111" >Листов</text>
<text x="1091.40" y="829.75" font-size="12.2" text-anchor="middle" fill="#111" >ЭП</text>
<text x="1134.50" y="829.75" font-size="12.4" text-anchor="middle" fill="#111" >17</text>
<text x="1181.30" y="829.75" font-size="12.4" text-anchor="middle" fill="#111" >18</text>
<text x="1145.30" y="864.75" font-size="12.6" text-anchor="middle" fill="#111" >ООО "Альянс"</text>
<rect x="781.5" y="803" width="35.5" height="30" fill="#fff"/>
<line x1="781.50" y1="809.40" x2="817.00" y2="809.40" stroke="#d0d0d0" stroke-width="1" />
<line x1="781.50" y1="824.40" x2="817.00" y2="824.40" stroke="#d0d0d0" stroke-width="1" />
<line x1="817.00" y1="803.00" x2="817.00" y2="833.00" stroke="#c8c8c8" stroke-width="0.7" />
<path d="M786,819.5 c-2,-1 -1,-3.5 1.5,-2.5 c3,1 5,3 9,2.5 c5,-1 5,-9 1,-12 c-3,-2 -8,-1 -9,2 c-1,3 2,8 4,10 M799,816 c-2,6 -5,11 -6,14 c-1,3 1,2 2,0 c3,-6 6,-12 8,-17 M806,815 c-2,6 -5,11 -6,14 c0,2 1,1 2,-1 c4,-7 7,-15 9,-22 c0,-2 -1,-2 -2,1 c-1,4 -2,7 -2,9 M802,817 c4,-1 8,-3 11,-4" stroke="#777" stroke-width="0.9" fill="none"/>
<rect x="786" y="855.5" width="38" height="25" fill="#fff"/>
<line x1="786.00" y1="854.40" x2="826.00" y2="854.40" stroke="#888" stroke-width="1.1" />
<line x1="786.00" y1="869.80" x2="826.00" y2="869.80" stroke="#999" stroke-width="1.1" />
<path d="M789,859 c4,-4 8,-9 12,-15 c-1,3 -2,6 -1,7 c2,-2 4,-4 6,-4 c-1,2 -1,4 0,5 c2,-1 4,-3 6,-3 c5,-3 11,-6 18,-6" stroke="#111" stroke-width="1.5" fill="none" stroke-linecap="round"/>
<path d="M789,859 l11,-14" stroke="#000" stroke-width="2.6" fill="none" stroke-linecap="round"/>
<path d="M790,871 c1,-5 8,-10 12,-9 c3,1 -1,8 -6,10 c-4,2 -7,0 -4,-4 c3,-3 8,-3 8,1 c0,3 -4,5 -5,3 c2,-4 6,-7 9,-8 c3,-2 6,-5 9,-8 c-2,4 -6,9 -7,12 c3,-4 7,-9 10,-12 c-2,4 -5,8 -6,11 c3,-3 6,-7 8,-9 M803,877 l18,-22" stroke="#444" stroke-width="0.8" fill="none"/>
</svg>
</body></html>
